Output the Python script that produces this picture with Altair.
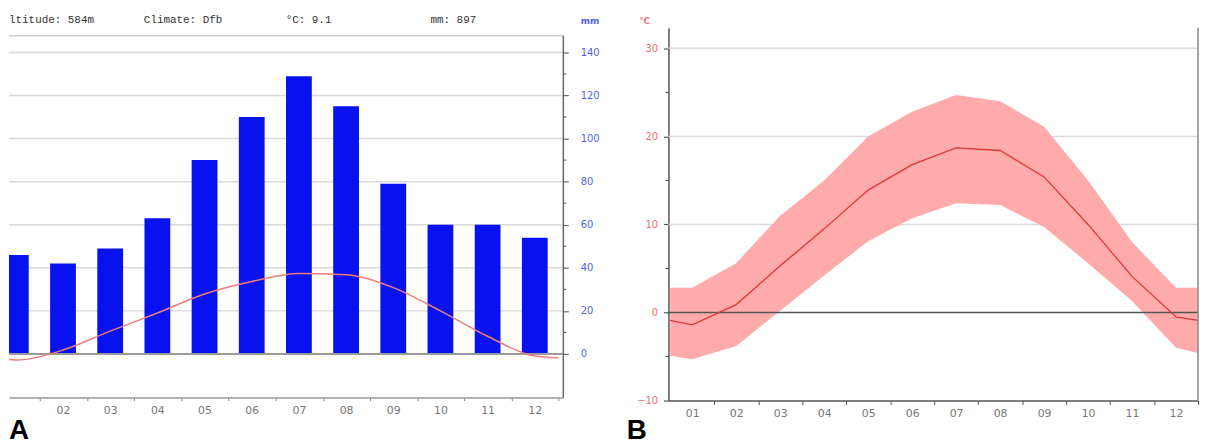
import altair as alt
import pandas as pd

# ---------------- data ----------------
months = list(range(1, 13))
precip_mm = [46, 42, 49, 63, 90, 110, 129, 115, 79, 60, 60, 54]

# temperature curve: month positions incl. the chart edges (0.5 / 12.5)
temp_x = [0.5, 1, 2, 3, 4, 5, 6, 7, 8, 9, 10, 11, 12, 12.5]
temp_mean = [-0.9, -1.4, 0.9, 5.3, 9.5, 13.9, 16.8, 18.7, 18.4, 15.4, 10.0, 4.1, -0.5, -0.9]
temp_upper = [2.8, 2.8, 5.6, 11.0, 15.0, 20.0, 22.8, 24.7, 24.0, 21.1, 15.0, 8.0, 2.8, 2.8]
temp_lower = [-4.9, -5.3, -3.8, 0.2, 4.2, 8.1, 10.7, 12.4, 12.2, 9.7, 5.6, 1.3, -4.0, -4.6]

mm_major = [0, 20, 40, 60, 80, 100, 120, 140]
mm_minor = [10, 30, 50, 70, 90, 110, 130]
mm_grid = [20, 40, 60, 80, 100, 120, 140]
c_major = [-10, 0, 10, 20, 30]
c_minor = [-5, 5, 15, 25]
c_grid = [10, 20, 30]

header_parts = ["ltitude: 584m", "Climate: Dfb", "°C: 9.1", "mm: 897"]

df_p = pd.DataFrame({"month": months, "mm": precip_mm})
df_t = pd.DataFrame({"m": temp_x, "mean": temp_mean, "hi": temp_upper, "lo": temp_lower})
df_mmgrid = pd.DataFrame({"g": mm_grid})
df_mmminor = pd.DataFrame({"g": mm_minor})
df_cgrid = pd.DataFrame({"g": c_grid})
df_cminor = pd.DataFrame({"g": c_minor})
df_zero = pd.DataFrame({"z": [0]})

# ---------------- panel A ----------------
WA, HA = 559, 373
A_YMIN, A_YMAX, A_FRAME_TOP = -20.26, 151.5, 147.8
xA = alt.Scale(domain=[0.96, 12.5], nice=False, zero=False)
yA = alt.Scale(domain=[A_YMIN, A_YMAX], nice=False, zero=False)

two_digit = "(datum.value < 10 ? '0' : '') + datum.value"

axA_x = alt.Axis(values=months,
                 labelExpr="datum.value == 1 ? '' : " + two_digit,
                 tickOffset=24.2, labelOffset=-24.2, tickSize=3, tickColor="#888",
                 domainColor="#999", domainWidth=1.5, labelColor="#777",
                 labelFont="DejaVu Sans", labelFontSize=11, labelPadding=4,
                 grid=False, title=None)
axA_y = alt.Axis(orient="right", values=mm_major, tickSize=5,
                 tickColor="#666", tickWidth=1.2, domain=False, grid=False,
                 labelColor="#5062ea", labelFont="DejaVu Sans", labelFontSize=10,
                 labelPadding=12, title=None)

gridA = alt.Chart(df_mmgrid).mark_rule(color="#d9d9d9", strokeWidth=1.5).encode(
    y=alt.Y("g:Q", scale=yA, axis=axA_y), x=alt.value(0), x2=alt.value(WA))
topA = alt.Chart(pd.DataFrame({"t": [A_FRAME_TOP]})).mark_rule(color="#cfcfcf", strokeWidth=1.5).encode(
    y=alt.Y("t:Q", scale=yA, axis=axA_y), x=alt.value(0), x2=alt.value(WA))
bars = alt.Chart(df_p).mark_bar(size=26, color="#0712ee", clip=True).encode(
    x=alt.X("month:Q", scale=xA, axis=axA_x),
    y=alt.Y("mm:Q", scale=yA, axis=axA_y))
zeroA = alt.Chart(df_zero).mark_rule(color="#9a9a9a", strokeWidth=2).encode(
    y=alt.Y("z:Q", scale=yA, axis=axA_y), x=alt.value(0), x2=alt.value(WA))
lineA = alt.Chart(df_t).transform_calculate(t2="datum.mean * 2").mark_line(
    color="#ef7b7b", strokeWidth=1.5, interpolate="monotone", clip=True).encode(
    x=alt.X("m:Q", scale=xA, axis=axA_x), y=alt.Y("t2:Q", scale=yA, axis=axA_y))
rightA = alt.Chart(pd.DataFrame({"a": [A_YMIN], "b": [A_FRAME_TOP]})).mark_rule(
    color="#666", strokeWidth=1.5).encode(
    x=alt.value(WA), y=alt.Y("a:Q", scale=yA, axis=axA_y), y2="b:Q")
minorA = alt.Chart(df_mmminor).mark_rule(color="#666", strokeWidth=1.2).encode(
    y=alt.Y("g:Q", scale=yA, axis=axA_y), x=alt.value(WA), x2=alt.value(WA + 3))

hdr_x = [0, 136, 279, 425]
hdr_layers = [
    alt.Chart(df_zero).mark_text(text=t, align="left", baseline="middle", font="Liberation Mono",
                                 fontSize=11, color="#333").encode(x=alt.value(xp), y=alt.value(-8))
    for t, xp in zip(header_parts, hdr_x)
]
mmlab = alt.Chart(df_zero).mark_text(text="mm", align="center", baseline="middle", font="DejaVu Sans",
                                     fontSize=9, fontWeight="bold", color="#5062ea").encode(
    x=alt.value(WA + 27), y=alt.value(-7))
labA = alt.Chart(df_zero).mark_text(text="A", align="left", baseline="alphabetic", font="Liberation Sans",
                                    fontSize=28, fontWeight="bold", color="#000").encode(
    x=alt.value(0), y=alt.value(415))

panelA = alt.layer(gridA, topA, bars, zeroA, lineA, rightA, minorA, *hdr_layers, mmlab, labA).properties(
    width=WA, height=HA)

# ---------------- panel B ----------------
WB, HB = 534, 376
xB = alt.Scale(domain=[0.46, 12.5], nice=False, zero=False)
yB = alt.Scale(domain=[-10, 32.35], nice=False, zero=False)

axB_x = alt.Axis(values=months, labelExpr=two_digit,
                 tickOffset=22.2, labelOffset=-22.2, tickSize=4, tickColor="#555",
                 domainColor="#555", domainWidth=1.5, labelColor="#777",
                 labelFont="DejaVu Sans", labelFontSize=11, labelPadding=3,
                 grid=False, title=None)
axB_y = alt.Axis(orient="left", values=c_major, tickSize=5,
                 tickColor="#555", tickWidth=1.2, domainColor="#555", domainWidth=1.5, grid=False,
                 labelColor="#f07070", labelFont="DejaVu Sans", labelFontSize=10,
                 labelPadding=6, title=None)

gridB = alt.Chart(df_cgrid).mark_rule(color="#dcdcdc", strokeWidth=1.5).encode(
    y=alt.Y("g:Q", scale=yB, axis=axB_y), x=alt.value(0), x2=alt.value(WB))
band = alt.Chart(df_t).mark_area(color="#ffabab", opacity=1).encode(
    x=alt.X("m:Q", scale=xB, axis=axB_x),
    y=alt.Y("lo:Q", scale=yB, axis=axB_y), y2="hi:Q")
zeroB = alt.Chart(df_zero).mark_rule(color="#555", strokeWidth=1.5).encode(
    y=alt.Y("z:Q", scale=yB, axis=axB_y), x=alt.value(0), x2=alt.value(WB))
meanB = alt.Chart(df_t).mark_line(color="#e03535", strokeWidth=1.3).encode(
    x=alt.X("m:Q", scale=xB, axis=axB_x), y=alt.Y("mean:Q", scale=yB, axis=axB_y))
rightB = alt.Chart(df_zero).mark_rule(color="#888", strokeWidth=1.5).encode(
    x=alt.value(WB), y=alt.value(0), y2=alt.value(HB))
minorB = alt.Chart(df_cminor).mark_rule(color="#555", strokeWidth=1.2).encode(
    y=alt.Y("g:Q", scale=yB, axis=axB_y), x=alt.value(-3), x2=alt.value(0))
clab = alt.Chart(df_zero).mark_text(text="°C", align="center", baseline="middle", font="DejaVu Sans",
                                    fontSize=9, fontWeight="bold", color="#f07070").encode(
    x=alt.value(-24), y=alt.value(-7))
labB = alt.Chart(df_zero).mark_text(text="B", align="left", baseline="alphabetic", font="Liberation Sans",
                                    fontSize=28, fontWeight="bold", color="#000").encode(
    x=alt.value(-42), y=alt.value(415))

panelB = alt.layer(gridB, band, zeroB, meanB, rightB, minorB, clab, labB).properties(width=WB, height=HB)

chart = alt.hconcat(panelA, panelB, spacing=106, bounds="flush").properties(
    padding={"left": 0, "top": 4, "right": 0, "bottom": 0},
    background="white",
).configure_view(stroke=None)

chart.save("out.html", embed_options={"renderer": "svg", "actions": False})
